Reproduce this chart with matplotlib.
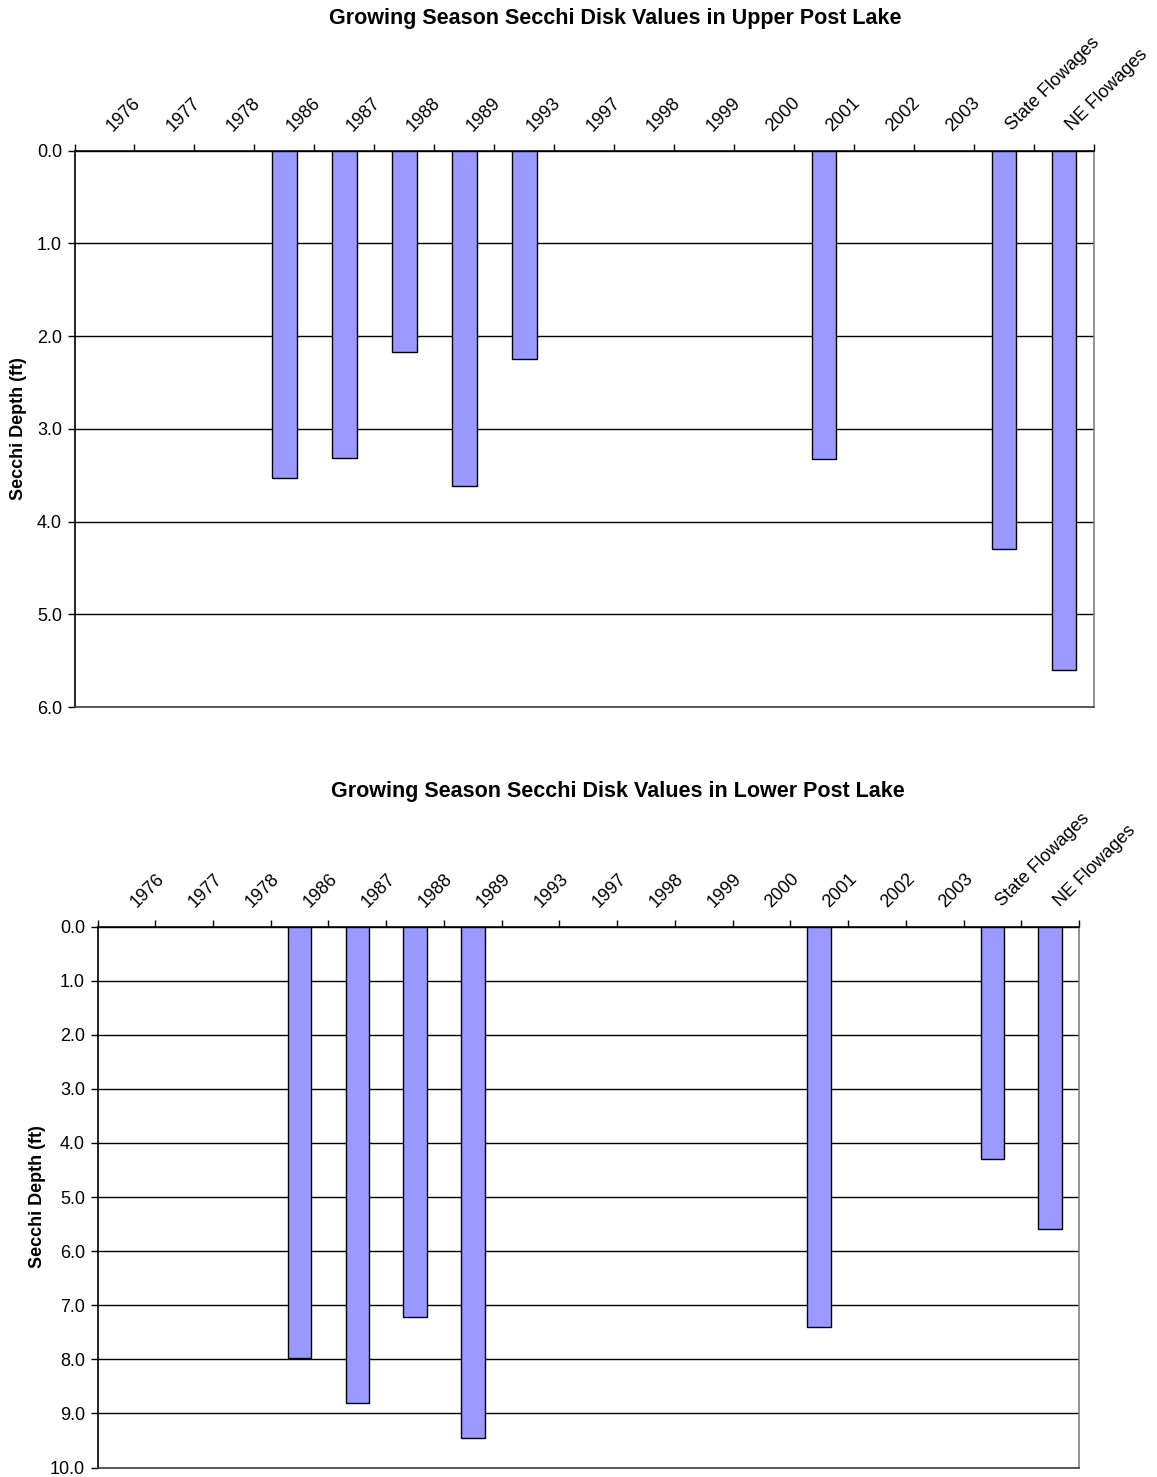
import numpy as np
import matplotlib
matplotlib.use('Agg')
import matplotlib.pyplot as plt
from matplotlib.transforms import blended_transform_factory, ScaledTranslation

plt.rcParams['font.family'] = ['Liberation Sans', 'DejaVu Sans']

categories = ['1976', '1977', '1978', '1986', '1987', '1988', '1989', '1993',
              '1997', '1998', '1999', '2000', '2001', '2002', '2003',
              'State Flowages', 'NE Flowages']

nan = np.nan
upper_secchi = [nan, nan, nan, 3.53, 3.31, 2.17, 3.62, 2.25,
                nan, nan, nan, nan, 3.33, nan, nan, 4.30, 5.60]
lower_secchi = [nan, nan, nan, 7.97, 8.80, 7.21, 9.45, nan,
                nan, nan, nan, nan, 7.41, nan, nan, 4.30, 5.60]

upper_title = 'Growing Season Secchi Disk Values in Upper Post Lake'
lower_title = 'Growing Season Secchi Disk Values in Lower Post Lake'
ylabel = 'Secchi Depth (ft)'

bar_color = '#9999FF'


def draw_panel(fig, rect, values, ymax, title, title_xy, label_dx):
    ax = fig.add_axes(rect)
    x = np.arange(len(categories))
    ax.bar(x, values, width=0.41, color=bar_color, edgecolor='black',
           linewidth=1.0, zorder=3)

    ax.set_xlim(-0.5, len(categories) - 0.5)
    ax.set_ylim(ymax, 0)
    ax.set_yticks(np.arange(0, ymax + 1))
    ax.set_yticklabels(['%.1f' % v for v in np.arange(0, ymax + 1)])
    ax.yaxis.grid(True, color='black', linewidth=1.0)
    ax.set_axisbelow(True)
    ax.tick_params(axis='y', direction='out', length=5, width=1,
                   labelsize=13, pad=4)

    # category boundaries carry the tick marks, labels are drawn by hand
    ax.xaxis.tick_top()
    ax.set_xticks(np.arange(-0.5, len(categories)))
    ax.set_xticklabels([])
    ax.tick_params(axis='x', direction='out', length=5, width=1)

    trans = blended_transform_factory(ax.transData, ax.transAxes)
    off = ScaledTranslation(label_dx / 100.0, 0.19, fig.dpi_scale_trans)
    for i, lab in enumerate(categories):
        ax.text(i, 1.0, lab, transform=trans + off, rotation=45,
                rotation_mode='anchor', ha='left', va='baseline',
                fontsize=13)

    ax.spines['top'].set_color('black')
    ax.spines['left'].set_color('black')
    ax.spines['bottom'].set_color('#404040')
    ax.spines['right'].set_color('#808080')
    for s in ax.spines.values():
        s.set_linewidth(1.2)

    fig.text(title_xy[0], title_xy[1], title, ha='center', va='center',
             fontsize=15.5, fontweight='bold')
    return ax


fig = plt.figure(figsize=(11.57, 14.77), dpi=100)

ax1 = draw_panel(fig, [0.0644, 0.5213, 0.8811, 0.3768], upper_secchi, 6,
                 upper_title, (0.532, 0.9875), 8)
ax1.set_ylabel(ylabel, fontsize=13, fontweight='bold', labelpad=7)

ax2 = draw_panel(fig, [0.0843, 0.0064, 0.8483, 0.3663], lower_secchi, 10,
                 lower_title, (0.534, 0.4638), 10)
ax2.set_ylabel(ylabel, fontsize=13, fontweight='bold', labelpad=3)

fig.savefig('out.png', dpi=100, facecolor='white')
plt.close()
